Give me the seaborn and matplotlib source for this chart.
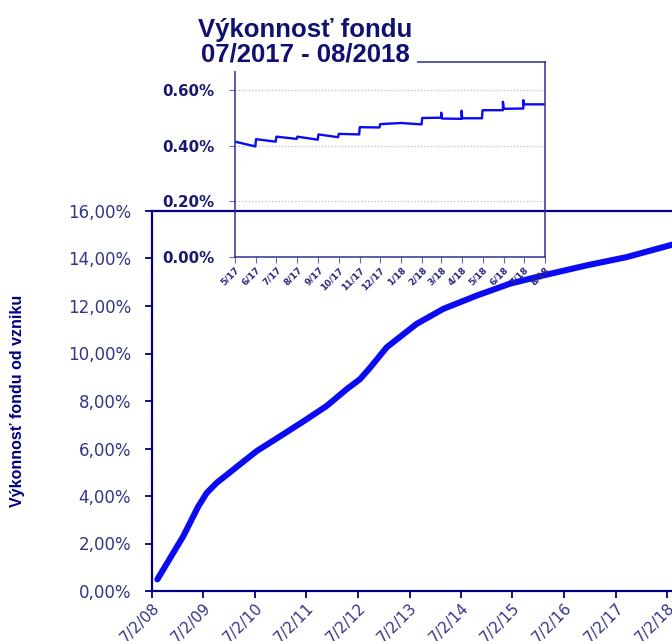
import pandas as pd
import seaborn as sns
import matplotlib.pyplot as plt

# --- main chart: fund performance since inception (%) ---
main_dates = [
    "2008-08-09", "2009-02-08", "2009-05-26", "2009-07-25", "2009-10-03",
    "2010-03-17", "2010-07-14", "2011-01-19", "2011-07-03", "2011-11-22",
    "2012-04-13", "2012-07-16", "2012-09-25", "2013-01-21", "2013-08-22",
    "2014-02-27", "2014-10-22", "2015-06-14", "2016-02-06", "2016-12-09",
    "2017-09-19", "2018-08-06",
]
main_values = [
    0.49, 2.30, 3.56, 4.13, 4.55,
    5.33, 5.89, 6.60, 7.23, 7.79,
    8.50, 8.92, 9.40, 10.26, 11.25,
    11.88, 12.44, 12.94, 13.29, 13.71,
    14.06, 14.58,
]
main_ticks = ["2008-07-02", "2009-07-02", "2010-07-02", "2011-07-02", "2012-07-02",
              "2013-07-02", "2014-07-02", "2015-07-02", "2016-07-02", "2017-07-02",
              "2018-07-02"]
main_tick_labels = ["7/2/08", "7/2/09", "7/2/10", "7/2/11", "7/2/12", "7/2/13",
                    "7/2/14", "7/2/15", "7/2/16", "7/2/17", "7/2/18"]
main_yticks = [0, 2, 4, 6, 8, 10, 12, 14, 16]
main_ytick_labels = ["0,00%", "2,00%", "4,00%", "6,00%", "8,00%", "10,00%",
                     "12,00%", "14,00%", "16,00%"]

# --- inset: last months (%) ---
inset_dates = [
    "2017-05-01", "2017-05-31", "2017-06-01", "2017-06-30", "2017-07-01",
    "2017-07-31", "2017-08-01", "2017-08-31", "2017-09-01", "2017-09-30",
    "2017-10-01", "2017-10-31", "2017-11-01", "2017-11-30", "2017-12-01",
    "2018-01-01", "2018-01-31", "2018-02-01", "2018-03-01", "2018-03-01",
    "2018-03-02", "2018-03-31", "2018-03-31", "2018-04-01", "2018-04-30",
    "2018-05-01", "2018-05-31", "2018-05-31", "2018-06-01", "2018-06-30",
    "2018-06-30", "2018-07-01", "2018-08-01",
]
inset_values = [
    0.414, 0.397, 0.423, 0.414, 0.432,
    0.424, 0.432, 0.421, 0.440, 0.430,
    0.442, 0.440, 0.466, 0.465, 0.477,
    0.481, 0.476, 0.499, 0.500, 0.518,
    0.497, 0.496, 0.525, 0.498, 0.498,
    0.527, 0.527, 0.557, 0.532, 0.533,
    0.563, 0.548, 0.548,
]
inset_ticks = ["2017-05-01", "2017-06-01", "2017-07-01", "2017-08-01", "2017-09-01",
               "2017-10-01", "2017-11-01", "2017-12-01", "2018-01-01", "2018-02-01",
               "2018-03-01", "2018-04-01", "2018-05-01", "2018-06-01", "2018-07-01",
               "2018-08-01"]
inset_tick_labels = ["5/17", "6/17", "7/17", "8/17", "9/17", "10/17", "11/17", "12/17",
                     "1/18", "2/18", "3/18", "4/18", "5/18", "6/18", "7/18", "8/18"]
inset_yticks = [0.0, 0.2, 0.4, 0.6]
inset_ytick_labels = ["0.00%", "0.20%", "0.40%", "0.60%"]

navy = "#000080"
label_col = "#34348a"

sns.set_style("white")
plt.rcParams["font.family"] = ["DejaVu Sans"]

fig = plt.figure(figsize=(6.72, 6.41), dpi=100)

# main axes
ax = fig.add_axes([152 / 672, 50 / 641, 520 / 672, 380 / 641])
sns.lineplot(x=pd.to_datetime(main_dates), y=main_values, ax=ax,
             color="#0a0af5", linewidth=4.4, solid_capstyle="round")
ax.set_xlim(pd.Timestamp("2008-07-02"), pd.Timestamp("2018-08-06"))
ax.set_ylim(0, 16)
ax.set_yticks(main_yticks)
ax.set_yticklabels(main_ytick_labels, fontsize=12, color=label_col)
ax.set_xticks(pd.to_datetime(main_ticks))
ax.set_xticklabels(main_tick_labels, fontsize=11, color=label_col,
                   rotation=45, ha="right", rotation_mode="anchor")
ax.tick_params(axis="both", direction="out", length=5, width=1.3, color=navy,
               bottom=True, left=True)
ax.tick_params(axis="x", pad=2)
ax.tick_params(axis="y", pad=10)
ax.set_ylabel("Výkonnosť fondu od vzniku", color=navy, fontsize=11.5,
              fontfamily=["Liberation Sans Narrow", "Liberation Sans"], fontweight="bold")
ax.yaxis.set_label_coords(-0.245, 0.5)
ax.set_xlabel("")
for side in ["left", "bottom", "top"]:
    ax.spines[side].set_color(navy)
    ax.spines[side].set_linewidth(1.6)
ax.spines["right"].set_visible(False)

# inset axes
ax_in = fig.add_axes([235 / 672, (641 - 257) / 641, 310 / 672, 195 / 641])
ax_in.patch.set_alpha(0)
sns.lineplot(x=pd.to_datetime(inset_dates), y=inset_values, ax=ax_in,
             estimator=None, sort=False, color="#0a0af5", linewidth=1.7)
ax_in.set_xlim(pd.Timestamp("2017-05-01"), pd.Timestamp("2018-08-01"))
ax_in.set_ylim(0, 0.7)
ax_in.set_yticks(inset_yticks)
ax_in.set_yticklabels(inset_ytick_labels, fontsize=10.8, fontweight="bold", color="#1a1a70")
ax_in.set_xticks(pd.to_datetime(inset_ticks))
ax_in.set_xticklabels(inset_tick_labels, fontsize=6.5, fontweight="bold", color="#2a2a80",
                      rotation=45, ha="right", rotation_mode="anchor")
ax_in.tick_params(axis="both", direction="out", length=4, width=0.8, color="#6a6aa8",
                  bottom=True, left=True, pad=2)
ax_in.tick_params(axis="y", pad=11)
ax_in.set_xlabel("")
ax_in.set_ylabel("")
for y in inset_yticks[1:]:
    ax_in.axhline(y, color="#bbbbbb", linestyle=":", linewidth=0.9, zorder=0)
for side in ax_in.spines:
    ax_in.spines[side].set_color("#303090")
    ax_in.spines[side].set_linewidth(1.1)

fig.text(305 / 672, 1 - 42 / 641, "Výkonnosť fondu\n07/2017 - 08/2018",
         ha="center", va="center", fontsize=18.5, fontweight="bold", color="#101070",
         fontfamily=["Liberation Sans", "DejaVu Sans"], linespacing=1.0,
         bbox=dict(facecolor="white", edgecolor="none", boxstyle="square,pad=0.2"))

fig.savefig("out.png", dpi=100)
